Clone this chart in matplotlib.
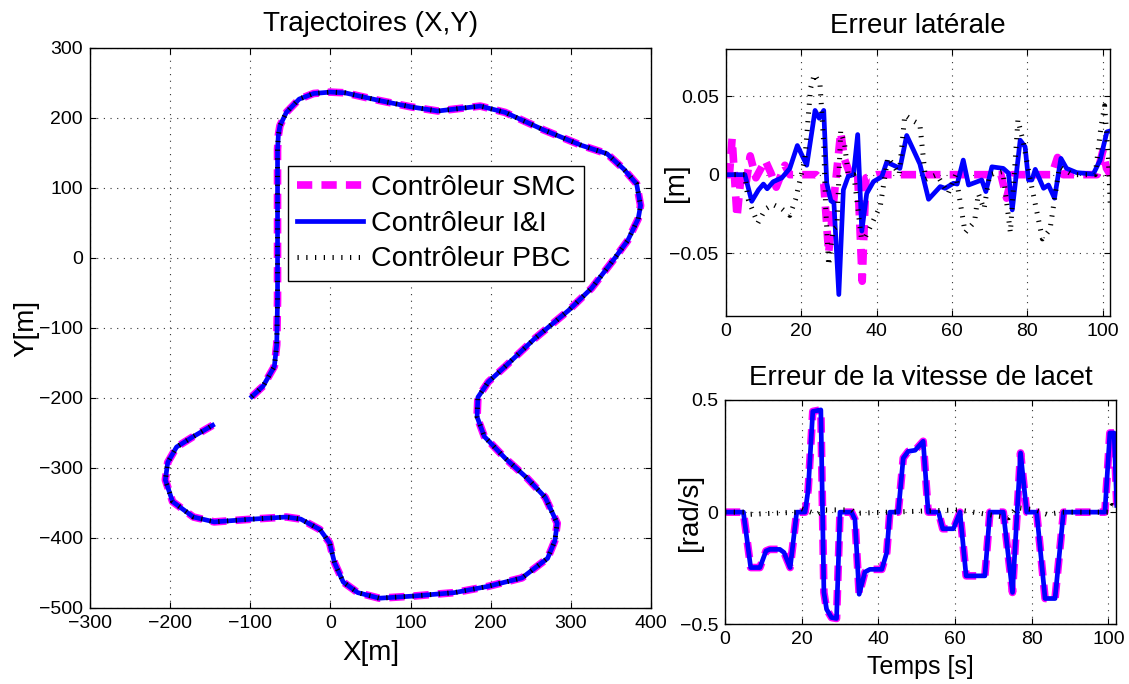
import numpy as np
import matplotlib.pyplot as plt

plt.rcParams['font.family'] = ['Liberation Sans', 'DejaVu Sans']

# trajectory (X, Y) in metres
traj_x = [-98, -84, -70, -67, -66, -66, -66, -65, -63, -55, -39, -21, 0, 18, 61, 100, 134,
          187, 218, 266, 313, 345, 366, 382, 387, 384, 371, 353, 326, 297, 255, 218, 197,
          184, 183, 192, 218, 245, 268, 283, 280, 271, 239, 197, 155, 103, 61, 34, 16, 5,
          -1, -13, -37, -55, -97, -145, -171, -197, -206, -203, -192, -171, -147]
traj_y = [-198, -183, -155, -124, -60, 0, 155, 175, 189, 208, 227, 235, 237, 236, 225, 216, 210,
          217, 208, 183, 161, 149, 127, 106, 75, 56, 25, -3, -43, -75, -115, -155, -177,
          -199, -227, -255, -286, -314, -342, -379, -404, -429, -457, -469, -478, -483, -486, -478, -463, -435,
          -407, -388, -373, -370, -373, -377, -370, -348, -317, -292, -270, -255, -239]

# lateral error (t [s], e [m])
lat_smc = [(0, 0), (1, 0), (1.7, 0.023), (3, -0.027), (4.2, 0.002), (5.5, -0.004), (6.5, 0.012),
           (8, -0.002), (10.5, 0.009), (12, 0.001), (13.4, -0.008), (15.7, 0.006), (17, 0),
           (24, 0), (26, -0.005), (27.3, -0.05), (28.5, -0.02), (30.5, 0.027), (31.5, 0.01),
           (33, 0), (35, 0), (36.2, -0.068), (37.2, -0.002), (40, 0), (73, 0), (74.5, -0.015),
           (76, 0), (86.5, 0), (88, 0.011), (89.5, 0), (98.5, 0), (100, 0.015), (101, 0.004), (102, 0)]
lat_ii = [(0, 0), (5.1, 0), (6.9, -0.017), (8.7, -0.0097), (10, -0.006), (11, -0.009),
          (12.6, -0.0045), (14.9, -0.002), (17, 0.004), (19, 0.0186), (21.5, 0.006), (23.7, 0.041),
          (24.8, 0.036), (26, 0.041), (26.8, -0.0055), (27.9, -0.0167), (28.7, -0.018), (30, -0.0765),
          (31.2, -0.0097), (32.5, -0.001), (33.9, 0), (35, 0.0256), (36.1, -0.036), (37.4, -0.012),
          (39.2, -0.0044), (41.4, -0.0013), (42.7, 0.008), (44.5, 0.006), (46.2, 0.004), (48, 0.025),
          (49.8, 0.0157), (51.5, 0.0068), (53.8, -0.0157), (56.9, -0.0076), (58.2, -0.0087),
          (60.4, -0.0055), (61.4, -0.006), (63, 0.0093), (64.4, -0.0066), (67.9, -0.0034),
          (69, -0.0108), (70.6, 0.005), (73.6, 0.004), (75, 0.001), (76, -0.0225), (78.1, 0.022),
          (79.4, 0.0178), (80.3, -0.0034), (81.2, -0.0034), (82.1, 0.0034), (84.3, -0.0087),
          (85.6, -0.0066), (87.2, -0.015), (88.9, 0.0104), (90.4, 0.004), (93.1, 0.0013),
          (97.5, 0.0004), (99.3, 0.0093), (101.1, 0.0273), (102.1, 0.028)]
lat_pbc = [(0, 0), (5, 0), (6, -0.016), (8.5, -0.031), (10.5, -0.022), (12.5, -0.019), (15, -0.022),
           (17, -0.026), (18.5, -0.016), (21, 0.01), (22.5, 0.055), (23.5, 0.064), (25, 0.058),
           (26, 0.02), (26.5, -0.02), (27.3, -0.058), (28.5, -0.035), (29.5, -0.033), (30.5, 0.028),
           (31.5, 0.02), (32.5, 0), (34, 0), (36, -0.041), (37, -0.04), (39, -0.03), (41, -0.02),
           (43, 0.011), (44.5, 0.006), (46, 0), (47.5, 0.038), (50, 0.034), (51.5, 0.032),
           (53, -0.003), (56, 0), (59, -0.012), (61, 0), (63.5, -0.037), (66, -0.03), (67, -0.012),
           (68.5, -0.022), (70, 0), (73.5, 0.002), (75.5, -0.037), (77.5, 0.035), (79, 0.02),
           (80.5, 0), (84, -0.041), (86, -0.035), (88.5, 0.005), (92, 0), (98, 0), (99.5, 0.03),
           (100.5, 0.044), (101.5, 0.01), (102, -0.02)]

# yaw rate error (t [s], r [rad/s])
yaw_err = [(0, 0), (4.8, 0), (6.7, -0.247), (9.1, -0.247), (10.7, -0.173), (11.7, -0.166),
           (14.3, -0.166), (15.4, -0.18), (17, -0.247), (18.7, 0), (20.9, 0), (21.7, 0.1),
           (22.9, 0.449), (25, 0.456), (25.8, -0.358), (26.5, -0.433), (27.8, -0.47), (29.1, -0.474),
           (30, 0), (33, 0), (33.9, -0.033), (35, -0.366), (36.5, -0.267), (37.8, -0.255),
           (40.9, -0.255), (42.2, -0.18), (43, 0), (45.2, 0), (46.5, 0.241), (47.8, 0.271),
           (49.6, 0.276), (51.7, 0.316), (53, 0), (55.7, 0), (56.8, -0.074), (59.6, -0.074),
           (61.3, 0), (62.9, -0.284), (67.8, -0.284), (69.1, 0), (72.6, 0), (75, -0.358),
           (77.1, 0.264), (78.7, 0), (81.3, 0), (83.5, -0.385), (86.1, -0.385), (88.3, 0),
           (99.1, 0), (100.4, 0.353), (101.5, 0.353), (102.2, 0.03)]
yaw_pbc = [(0, 0), (5, 0), (6, -0.01), (19, 0), (20, 0.015), (24, -0.01), (26, 0.01), (33, 0.01),
           (34, -0.005), (61, 0.01), (74, -0.025), (76, 0.02), (81, 0.01), (84, -0.01), (88, 0),
           (100, 0), (101, 0.03), (102, 0.02)]

labels = ['Contrôleur SMC', 'Contrôleur I&I', 'Contrôleur PBC']

smc = dict(color='#ff00ff', lw=5.5, linestyle=(0, (2, 1.2)))
ii = dict(color='#0000ff', lw=3.4, solid_joinstyle='round')
pbc = dict(color='k', lw=3.6, linestyle=(0, (0.25, 1.5)))

W, H = 1129, 684
fig = plt.figure(figsize=(W / 100, H / 100), dpi=100)
ax1 = fig.add_axes([90 / W, 1 - 608 / H, 561 / W, 560 / H])
ax2 = fig.add_axes([725.7 / W, 1 - 315.7 / H, 384.6 / W, 266.4 / H])
ax3 = fig.add_axes([725 / W, 1 - 624.3 / H, 391 / W, 224.3 / H])


def style(ax):
    ax.grid(True, linestyle=(0, (1, 5)), color='#333333', lw=0.8)
    ax.tick_params(direction='in', top=True, right=True, length=4, width=0.8,
                   labelsize=14, pad=5)
    for s in ax.spines.values():
        s.set_linewidth(1.0)


# left: trajectories
h1, = ax1.plot(traj_x, traj_y, **smc)
h2, = ax1.plot(traj_x, traj_y, **ii)
h3, = ax1.plot(traj_x, traj_y, **pbc)
ax1.set_xlim(-300, 400)
ax1.set_ylim(-500, 300)
ax1.set_xticks(range(-300, 401, 100))
ax1.set_yticks(range(-500, 301, 100))
style(ax1)
ax1.set_title('Trajectoires (X,Y)', fontsize=20, pad=12)
ax1.set_xlabel('X[m]', fontsize=20, labelpad=6)
ax1.set_ylabel('Y[m]', fontsize=20)
ax1.yaxis.set_label_coords(-0.091, 0.5)
leg = ax1.legend([h1, h2, h3], labels, loc='upper left',
                 bbox_to_anchor=(288 / W, 1 - 166 / H), bbox_transform=fig.transFigure,
                 fontsize=20.5, fancybox=False, edgecolor='k', framealpha=1,
                 borderaxespad=0, handlelength=2.35, handletextpad=0.28,
                 labelspacing=0.35, borderpad=0.3)
leg.get_frame().set_linewidth(1.0)

# top right: lateral error
for data, st in ((lat_smc, smc), (lat_ii, ii), (lat_pbc, pbc)):
    t, e = zip(*data)
    ax2.plot(t, e, **st)
ax2.set_xlim(0, 102)
ax2.set_ylim(-0.09, 0.08)
ax2.set_xticks(range(0, 101, 20))
ax2.set_yticks([-0.05, 0, 0.05])
ax2.set_yticklabels(['\u22120.05', '0', '0.05'])
style(ax2)
ax2.set_title('Erreur latérale', fontsize=20, pad=12)
ax2.set_ylabel('[m]', fontsize=20)
ax2.yaxis.set_label_coords(-0.095, 0.5)

# bottom right: yaw rate error
t, r = zip(*yaw_err)
ax3.plot(t, r, **smc)
ax3.plot(t, r, **ii)
t, r = zip(*yaw_pbc)
ax3.plot(t, r, **pbc)
ax3.set_xlim(0, 102)
ax3.set_ylim(-0.5, 0.5)
ax3.set_xticks(range(0, 101, 20))
ax3.set_yticks([-0.5, 0, 0.5])
ax3.set_yticklabels(['\u22120.5', '0', '0.5'])
style(ax3)
ax3.set_title('Erreur de la vitesse de lacet', fontsize=20, pad=11)
ax3.set_xlabel('Temps [s]', fontsize=18, labelpad=5)
ax3.set_ylabel('[rad/s]', fontsize=20)
ax3.yaxis.set_label_coords(-0.056, 0.5)

fig.savefig('out.png', dpi=100)
